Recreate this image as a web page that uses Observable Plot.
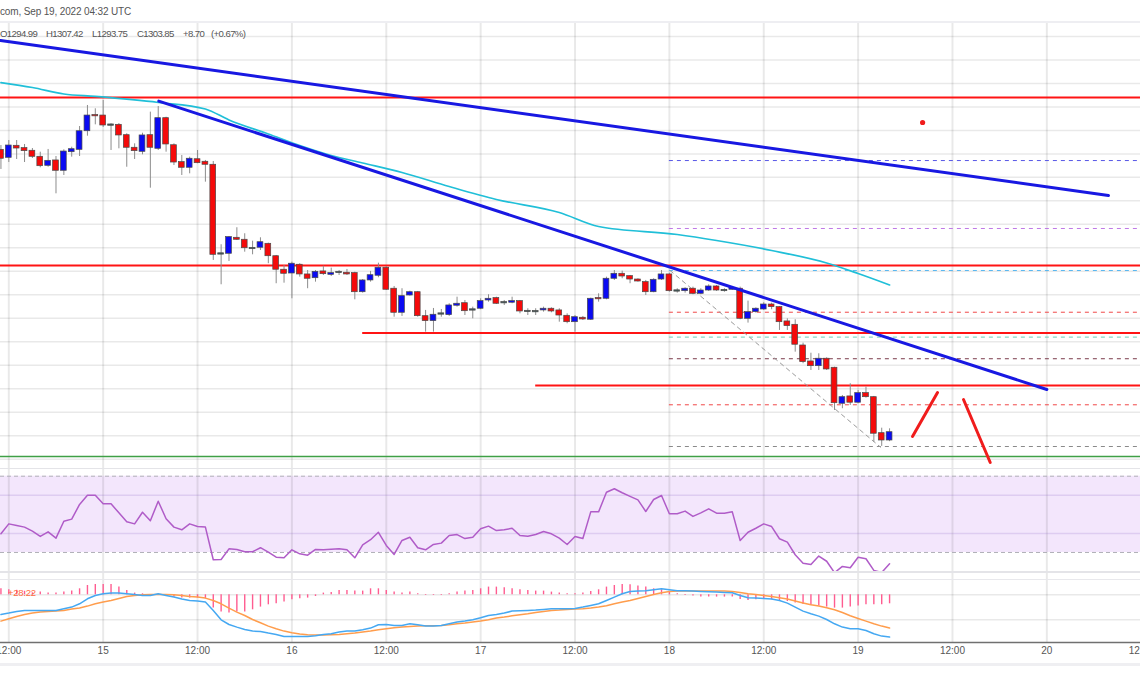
<!DOCTYPE html>
<html><head><meta charset="utf-8">
<script src="https://cdn.jsdelivr.net/npm/d3@7"></script>
<script src="https://cdn.jsdelivr.net/npm/@observablehq/plot@0.6"></script>
<style>
html,body{margin:0;padding:0;background:#fff;overflow:hidden;}
#chart{position:relative;width:1140px;height:694px;background:#fff;font-family:"Liberation Sans",Arial,sans-serif;overflow:hidden;}
.pane{position:absolute;left:0;}
.sep{position:absolute;left:0;width:1140px;}
.txt{position:absolute;white-space:pre;color:#555;font-size:10px;line-height:12px;}
</style></head><body><div id="chart"></div>
<script>
// ---------- DATA ----------
const firstCandle = "2022-09-14T11:00:00Z"; // hourly candles
const openP = [1604.3,1595.8,1608.6,1606.1,1603.3,1596.9,1587.3,1593.0,1582.0,1601.8,
1604.3,1624.1,1641.2,1640.8,1630.6,1630.9,1619.9,1606.5,1602.2,1619.9,
1605.4,1638.0,1609.2,1591.2,1585.2,1594.3,1591.6,1588.4,1493.5,1493.7,
1510.7,1508.6,1499.3,1500.1,1504.3,1491.1,1476.7,1472.7,1482.0,1471.7,
1467.7,1474.9,1471.3,1473.8,1473.5,1473.1,1452.8,1465.3,1470.3,1478.8,
1456.5,1430.9,1449.3,1452.8,1427.3,1422.0,1429.6,1428.4,1438.4,1441.1,
1433.9,1435.2,1444.0,1446.5,1441.6,1441.6,1443.3,1432.3,1432.1,1433.4,
1435.2,1433.4,1427.7,1420.9,1425.6,1423.5,1446.5,1445.8,1467.1,1472.4,
1469.9,1466.3,1463.5,1452.8,1466.3,1471.7,1454.1,1453.9,1456.5,1451.1,
1454.6,1458.9,1454.6,1455.4,1456.5,1424.5,1431.6,1434.4,1439.7,1436.9,
1421.7,1418.1,1396.1,1379.1,1374.1,1382.0,1372.4,1334.1,1341.9,1335.2,
1345.4,1341.1,1302.8,1294.99];
const highP = [1608.9,1614.2,1614.2,1610.0,1605.7,1601.8,1604.7,1597.2,1604.3,1607.1,
1629.1,1651.5,1648.0,1656.8,1632.0,1632.3,1621.4,1610.7,1622.0,1644.4,
1650.4,1639.0,1610.7,1598.3,1596.5,1603.6,1593.0,1591.9,1503.3,1512.1,
1521.4,1515.0,1507.1,1510.7,1505.0,1491.9,1481.2,1484.8,1483.1,1475.9,
1475.9,1480.5,1478.4,1475.9,1477.0,1474.1,1466.3,1474.9,1483.7,1480.2,
1458.9,1456.5,1453.9,1453.6,1433.4,1435.5,1434.4,1440.5,1447.5,1444.0,
1436.9,1445.8,1450.1,1447.5,1444.0,1447.5,1444.0,1435.2,1435.2,1436.9,
1436.2,1435.2,1429.8,1428.0,1427.0,1446.5,1451.1,1468.8,1475.9,1475.2,
1470.6,1467.1,1465.3,1467.1,1475.9,1473.1,1456.5,1457.5,1458.2,1456.5,
1460.7,1460.0,1456.5,1458.9,1458.2,1443.3,1436.2,1441.6,1441.1,1437.6,
1424.5,1423.5,1398.6,1387.9,1387.3,1383.0,1373.0,1342.9,1355.4,1348.2,
1351.8,1341.9,1308.1,1307.42];
const lowP = [1583.4,1590.8,1594.0,1590.8,1595.1,1585.2,1585.8,1557.5,1577.0,1596.5,
1597.2,1618.8,1630.9,1628.1,1603.6,1605.4,1585.8,1594.0,1599.0,1563.5,
1603.6,1601.8,1587.6,1577.0,1578.8,1589.5,1569.9,1486.6,1460.7,1485.5,
1507.8,1495.4,1492.6,1497.2,1483.1,1461.8,1462.4,1445.8,1468.8,1456.5,
1463.5,1470.6,1469.5,1470.6,1470.6,1444.7,1451.8,1463.5,1468.2,1454.6,
1426.2,1427.0,1448.6,1426.2,1410.3,1410.3,1426.2,1427.0,1436.9,1428.0,
1424.5,1434.1,1442.2,1439.7,1438.7,1440.5,1429.8,1428.0,1428.0,1431.6,
1430.9,1420.9,1419.2,1410.3,1422.7,1422.7,1442.2,1444.7,1465.3,1467.1,
1461.8,1463.5,1449.3,1452.2,1465.3,1452.8,1451.8,1451.8,1450.1,1450.1,
1453.6,1453.6,1452.8,1454.6,1423.5,1419.9,1430.5,1433.4,1434.1,1412.1,
1412.1,1389.0,1376.7,1369.5,1369.5,1369.5,1327.0,1328.8,1332.3,1334.1,
1340.1,1293.2,1288.7,1293.75];
const closeP = [1594.8,1608.9,1605.7,1602.9,1596.9,1586.9,1592.6,1582.0,1602.5,1605.0,
1624.1,1640.8,1640.1,1630.2,1630.6,1619.6,1606.5,1602.9,1619.6,1606.5,
1638.0,1610.0,1590.8,1585.2,1594.8,1590.1,1588.4,1492.6,1493.5,1511.4,
1508.6,1499.6,1499.3,1506.0,1491.1,1476.7,1472.4,1483.1,1471.7,1467.1,
1474.5,1472.0,1473.1,1473.8,1471.7,1452.8,1465.3,1470.9,1478.8,1455.4,
1430.9,1448.6,1452.8,1427.3,1422.0,1428.8,1429.6,1438.7,1440.5,1432.6,
1433.9,1443.3,1445.8,1440.5,1441.6,1443.3,1432.3,1432.3,1432.1,1435.2,
1432.3,1428.0,1420.9,1426.2,1423.8,1445.8,1445.4,1467.1,1472.4,1469.5,
1466.3,1464.2,1452.8,1466.0,1471.7,1453.9,1454.1,1456.5,1451.1,1454.6,
1458.9,1454.6,1454.6,1457.3,1424.5,1431.6,1435.2,1439.7,1436.9,1420.9,
1416.7,1396.9,1378.4,1374.1,1382.0,1370.6,1334.7,1341.1,1335.2,1345.4,
1341.1,1302.2,1295.0,1303.85];

// 100-period moving average (cyan), sampled at candle numbers
const maCandle = [1,5,9,13,21,27,30,35,39,43,47,52,58,64,72,77,87,92,99,106,110,114];
const maPrice = [1675.9,1670.6,1663.7,1661.1,1654.7,1647.8,1636.1,1621.2,1608.9,1598.3,1590.3,1580.2,1565.3,1551.5,1537.6,1522.7,1514.2,1507.8,1497.2,1483.9,1472.7,1460.5];

// RSI per candle
const rsiValues = [39.8,45.0,44.2,43.3,41.2,38.4,40.8,37.5,46.4,47.5,
55.2,60.0,60.0,55.5,55.5,50.8,46.1,45.0,51.1,46.6,
56.9,47.7,43.3,41.9,45.0,43.6,43.3,26.2,26.3,31.9,
31.6,30.4,30.4,32.5,30.2,27.5,27.2,31.4,29.3,28.6,
31.6,31.4,31.7,31.9,31.4,27.2,34.0,36.7,40.6,33.7,
29.0,36.3,38.0,32.5,31.4,34.2,34.9,38.9,39.4,37.3,
38.0,42.4,43.8,41.5,41.9,42.7,38.9,38.5,39.4,41.0,
39.8,37.5,34.2,38.4,37.3,51.3,51.3,61.6,63.4,61.3,
59.4,57.6,51.5,57.8,59.9,50.3,50.3,51.7,48.9,50.8,
52.9,50.6,50.6,51.3,36.3,40.6,42.7,45.0,43.6,37.2,
35.4,28.8,24.4,23.7,28.1,25.4,19.4,22.7,22.0,27.5,
26.7,20.6,19.5,24.1];
const rsiBand = [30, 70];
const rsiGrid = [40, 60];

// MACD per candle
const macdValues = [-19.7,-18.3,-16.7,-15.7,-15.7,-15.7,-15.7,-15.7,-14,-12.3,
-9,-4,-0.7,1,1.7,1.7,1,0.3,-0.7,-0.7,
1,-0.7,-2.3,-4.3,-5.7,-6.3,-7.3,-15.7,-25,-29.7,
-32.3,-34.7,-36.3,-36.7,-38.3,-39.7,-41.7,-41.7,-41.7,-41.7,
-41,-39.7,-39,-37.3,-36.3,-36.3,-35,-33.3,-30,-29.7,
-30.7,-30.7,-29,-30,-31.3,-31.3,-30.7,-29,-27.3,-26.3,
-25,-23,-20.7,-19.7,-18.3,-16.3,-16,-15.7,-15.3,-14.7,
-14,-14,-14,-13.7,-12.3,-10.7,-9,-5.7,-2.3,1,
3.3,3.7,4,5,6,5,4,4,3.7,3.3,
3,2.7,2.3,2,-0.7,-3,-3.3,-3.7,-4.3,-5.7,
-8.3,-12.3,-16.3,-19,-21.3,-24.7,-29,-32.3,-34,-34,
-35.7,-39,-41.3,-42.3];
const signalValues = [-26.3,-24,-21.7,-19.7,-18.3,-17.3,-16.7,-16.3,-15.7,-14.3,
-13.3,-11.3,-9,-7.3,-5.7,-3.7,-1.7,-0.7,0,0.3,
0.3,0.3,0,-0.7,-1.7,-2.3,-3.3,-5.7,-9,-13.3,
-17.3,-20.7,-24.7,-28,-31.3,-34,-36.3,-38,-39.3,-40,
-40.3,-40.3,-40,-39.7,-39,-38.3,-37.3,-36.3,-35,-34,
-33,-32.3,-31.7,-31.3,-31,-31,-30.7,-30,-29,-28.3,
-27.3,-26.3,-25,-23.3,-22.3,-21,-20,-19,-17.7,-16.7,
-15.7,-15.3,-14.7,-14.3,-14,-13.3,-12.3,-11,-9,-7.3,
-5.7,-3.7,-1.7,0.3,2,3.3,3.7,3.7,3.7,3.7,
3.7,3.7,3.7,3.3,2.3,1,0.3,-0.7,-1.7,-3,
-4.3,-6.3,-8.3,-10,-11.3,-13,-15,-17.7,-21,-23.7,
-26.3,-29,-31.3,-33.3];
const histValues = [6,5,4.5,3.5,2,2.7,1.7,1.7,2.7,3.7,
6,9.3,10.3,10.3,10.3,7.7,4.3,1.7,1,0.3,
0.3,-1.3,-2.3,-3.3,-3.3,-3.3,-4,-13.3,-17.3,-18.3,
-17.3,-17.3,-15,-12.3,-10,-9,-7.3,-5,-4,-3.3,
-1.7,1.7,2.3,4.3,4.3,3.7,3.7,6,6,4.3,
2.7,1.7,2.7,1,-0.7,-0.7,-0.7,1,2.7,3.7,
4.3,6,7.7,7.7,7,6,5,4.3,3.7,3.7,
2.7,1.7,1,1,1.7,3.3,5,7.7,9.3,10.3,
10,8.7,7.7,6,5,2.7,1,-0.7,-1.3,-2.3,
-2.3,-2.3,-2.3,-2.3,-4.7,-5.7,-5,-4.7,-5,-5.7,
-6.7,-8.3,-9.7,-10.7,-11.3,-12.3,-13.3,-13.3,-12.3,-11.3,
-10,-10,-10,-9];
const macdGrid = [0, -25];
const macdLabel = "+28.22";

// drawings on the price pane
const trendIds = ["upper","upper","lower","lower"];
const trendTimes = ["2022-09-14T10:57:00Z","2022-09-20T07:50:00Z","2022-09-15T07:04:00Z","2022-09-20T00:00:00Z"];
const trendPrices = [1720.6,1555.7,1656.1,1349.3];
const resistanceLevels = [1660.0,1481.2,1409.3,1353.6];
const resistanceFrom = [null,null,"2022-09-16T09:00:00Z","2022-09-17T07:00:00Z"];
const supportLevel = 1278.0;
const fibFrom = "2022-09-18T00:00:00Z";
const fibLevels = [1592.9,1520.6,1475.9,1431.5,1405.0,1382.0,1333.0,1288.6];
const fibColors = ["#5656e6","#c07ae6","#5ab8f0","#f04848","#6fcdb8","#7a3a4a","#f04848","#8a8a8a"];
const fibDiagTimes = ["2022-09-18T00:05:00Z","2022-09-19T02:51:00Z"];
const fibDiagPrices = [1475.9,1287.9];
const zigIds = ["a","a","b","b"];
const zigTimes = ["2022-09-19T06:55:00Z","2022-09-19T10:06:00Z","2022-09-19T13:24:00Z","2022-09-19T16:48:00Z"];
const zigPrices = [1299.3,1346.1,1338.6,1271.6];
const markerTime = "2022-09-19T08:12:00Z";
const markerPrice = 1633.4;

const priceGrid = d3.range(1275, 1726, 25);
const tickLabels = ["12:00","15","12:00","16","12:00","17","12:00","18","12:00","19","12:00","20","12:00"];
const headerText = "com, Sep 19, 2022 04:32 UTC";
const ohlcTokens = ["O1294.99","H1307.42","L1293.75","C1303.85","+8.70","(+0.67%)"];

// ---------- LAYOUT ----------
const H = 3600e3;
const t0 = new Date(firstCandle).getTime();
const pxPerHour = 7.864;
const W = 1140;
const xStart = new Date(t0 - 0.44 / pxPerHour * H);
const xEnd = new Date(xStart.getTime() + W / pxPerHour * H);
const xOpt = {type: "utc", domain: [xStart, xEnd], axis: null};
const tickTimes = tickLabels.map((_, k) => new Date(Date.UTC(2022, 8, 14, 12) + k * 12 * H));
const M = {marginTop: 0, marginRight: 0, marginBottom: 0, marginLeft: 0};
const gridStyle = {stroke: "#000", strokeOpacity: 0.085};

const candles = openP.map((o, i) => ({t: new Date(t0 + i * H), o, h: highP[i], l: lowP[i], c: closeP[i]}));
candles.forEach(d => {
  let lo = Math.min(d.o, d.c), hi = Math.max(d.o, d.c);
  if (hi - lo < 1.4) { const m = (hi + lo) / 2; lo = m - 0.7; hi = m + 0.7; }
  d.lo = lo; d.hi = hi;
  d.x1 = new Date(d.t.getTime() - 22 * 60e3);
  d.x2 = new Date(d.t.getTime() + 22 * 60e3);
  d.fill = d.c > d.o ? "#0a0af2" : d.c < d.o ? "#f50a0a" : "#3f5a5a";
});
const maData = maCandle.map((c, i) => ({t: new Date(t0 + (c - 1) * H), p: maPrice[i]}));
const trendData = trendTimes.map((t, i) => ({id: trendIds[i], t: new Date(t), p: trendPrices[i]}));
const resData = resistanceLevels.map((p, i) => ({p, from: resistanceFrom[i] ? new Date(resistanceFrom[i]) : xStart}));
const fibData = fibLevels.map((p, i) => ({p, color: fibColors[i]}));
const diagData = fibDiagTimes.map((t, i) => ({t: new Date(t), p: fibDiagPrices[i]}));
const zigData = zigTimes.map((t, i) => ({id: zigIds[i], t: new Date(t), p: zigPrices[i]}));

const chart = document.getElementById("chart");
function place(el, top) { el.classList.add("pane"); el.style.top = top + "px"; chart.appendChild(el); }
function sep(top, h, color) { const d = document.createElement("div"); d.className = "sep"; d.style.top = top + "px"; d.style.height = h + "px"; d.style.background = color; chart.appendChild(d); }
function txt(s, left, top, color, ls, fs) {
  const d = document.createElement("div"); d.className = "txt"; d.textContent = s;
  d.style.left = left + "px"; d.style.top = top + "px";
  if (color) d.style.color = color;
  if (ls != null) d.style.letterSpacing = ls + "px";
  if (fs != null) d.style.fontSize = fs + "px";
  chart.appendChild(d); return d;
}

// ---------- PRICE PANE ----------
const main = Plot.plot({
  width: W, height: 446, ...M,
  x: xOpt, y: {domain: [1265.2, 1739.8], axis: null},
  color: {type: "identity"},
  style: {background: "transparent"},
  marks: [
    Plot.ruleY(priceGrid, {...gridStyle, strokeWidth: 1.5}),
    Plot.ruleX(tickTimes, {...gridStyle, strokeWidth: 2}),
    Plot.ruleY(fibData, {y: "p", x1: () => new Date(fibFrom), x2: () => xEnd, stroke: "color", strokeWidth: 1, strokeDasharray: "4,4"}),
    Plot.ruleY(resData, {y: "p", x1: "from", x2: () => xEnd, stroke: "#ff1414", strokeWidth: 2}),
    Plot.ruleY([supportLevel], {stroke: "#3fa046", strokeWidth: 1.5}),
    Plot.line(maData, {x: "t", y: "p", stroke: "#20bfd8", strokeWidth: 1.7, curve: "monotone-x"}),
    Plot.line(diagData, {x: "t", y: "p", stroke: "#9a9a9a", strokeWidth: 1, strokeDasharray: "4,4"}),
    Plot.ruleX(candles, {x: "t", y1: "l", y2: "h", stroke: "#8c8c8c", strokeWidth: 1}),
    Plot.rect(candles, {x1: "x1", x2: "x2", y1: "lo", y2: "hi", fill: "fill", stroke: "#4a4a4a", strokeWidth: 0.7}),
    Plot.line(trendData, {x: "t", y: "p", z: "id", stroke: "#1818e2", strokeWidth: 3, strokeLinecap: "round"}),
    Plot.line(zigData, {x: "t", y: "p", z: "id", stroke: "#f01c1c", strokeWidth: 3, strokeLinecap: "round"}),
    Plot.dot([markerPrice], {x: () => new Date(markerTime), y: d => d, r: 2.6, fill: "#f01c1c"})
  ]
});
place(main, 22);

// ---------- RSI PANE ----------
const rsi = Plot.plot({
  width: W, height: 104, ...M,
  x: xOpt, y: {domain: [19.5, 74.04], axis: null},
  style: {background: "transparent"},
  marks: [
    Plot.rect([rsiBand], {x1: () => xStart, x2: () => xEnd, y1: d => d[0], y2: d => d[1], fill: "#f3e6fc"}),
    Plot.ruleX(tickTimes, {...gridStyle, strokeWidth: 2}),
    Plot.ruleY(rsiGrid, {stroke: "#7e57c2", strokeOpacity: 0.18, strokeWidth: 1.5}),
    Plot.ruleY(rsiBand, {stroke: "#b0b0b8", strokeWidth: 1, strokeDasharray: "4,3"}),
    Plot.line(rsiValues, {x: (d, i) => new Date(t0 + i * H), y: d => d, stroke: "#b05cc8", strokeWidth: 1.5})
  ]
});
place(rsi, 468);

// ---------- MACD PANE + TIME AXIS ----------
const macd = Plot.plot({
  width: W, height: 122, ...M, marginBottom: 52,
  x: xOpt, y: {domain: [-47.7, 22.3], axis: null},
  style: {background: "transparent", fontFamily: "Liberation Sans, Arial, sans-serif"},
  marks: [
    Plot.ruleX(tickTimes, {...gridStyle, strokeWidth: 2}),
    Plot.ruleY(macdGrid, {...gridStyle, strokeWidth: 1.5}),
    Plot.ruleX(histValues, {x: (d, i) => new Date(t0 + i * H), y1: 0, y2: d => d, stroke: "#ff5c90", strokeWidth: 1.4}),
    Plot.line(signalValues, {x: (d, i) => new Date(t0 + i * H), y: d => d, stroke: "#ff9d4d", strokeWidth: 1.5}),
    Plot.line(macdValues, {x: (d, i) => new Date(t0 + i * H), y: d => d, stroke: "#45a8f2", strokeWidth: 1.5}),
    Plot.ruleY([-47.7], {stroke: "#707070", strokeWidth: 1.5}),
    Plot.text(tickTimes, {x: d => d, text: (d, i) => tickLabels[i], frameAnchor: "bottom", dy: 11, fill: "#555", fontSize: 10})
  ]
});
place(macd, 572);

// separators & header texts
sep(21, 2, "#eeeef2");
sep(467.5, 1.5, "#e4e4e8");
sep(570.5, 2.5, "#e4e4e8");
sep(578.5, 1, "#e8e8ec");
sep(663, 2.5, "#efeff2");
txt(headerText, 0, 6, "#555", -0.15, 10);
const ohlcLeft = [0, 46, 92, 137, 183, 211];
ohlcTokens.forEach((s, i) => txt(s, ohlcLeft[i], 28, "#555", -0.6, 9.6));
txt(macdLabel, 8, 587, "#ff6a3d", -0.3, 9.6);
</script></body></html>
